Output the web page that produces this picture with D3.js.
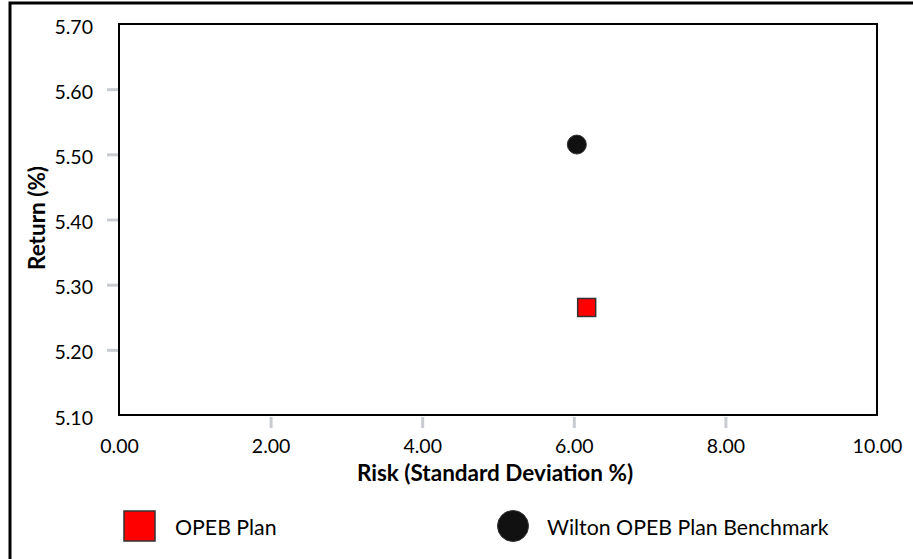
<!DOCTYPE html>
<html><head><meta charset="utf-8">
<script src="https://cdn.jsdelivr.net/npm/d3@7"></script>
<style>body{margin:0;background:#fff}svg{display:block}text{font-family:Lato,"Open Sans",sans-serif;fill:#000}</style>
</head><body>
<script>
const seriesNames = ["OPEB Plan", "Wilton OPEB Plan Benchmark"];
const riskValues = [6.17, 6.04];
const returnValues = [5.265, 5.515];
const seriesShapes = ["square", "circle"];
const seriesColors = ["#ff0000", "#111111"];
const xTicks = [0, 2, 4, 6, 8, 10];
const yTicks = [5.10, 5.20, 5.30, 5.40, 5.50, 5.60, 5.70];
const xTitle = "Risk (Standard Deviation %)";
const yTitle = "Return (%)";

const W = 913, H = 559;
const svg = d3.select("body").append("svg").attr("width", W).attr("height", H);
svg.append("rect").attr("x", 10).attr("y", 3).attr("width", 920).attr("height", 580)
  .attr("fill", "#fff").attr("stroke", "#000").attr("stroke-width", 3);

const L = 119, T = 24, R = 877, B = 415;
const x = d3.scaleLinear().domain([0, 10]).range([L, R]);
const y = d3.scaleLinear().domain([5.10, 5.70]).range([B, T]);

const tickFs = 19.5, titleFs = 22.5, legFs = 21.3;
// x axis
const xa = svg.append("g").attr("transform", `translate(0,${B})`)
  .call(d3.axisBottom(x).tickValues(xTicks).tickFormat(d3.format(".2f")).tickSize(13).tickPadding(0));
xa.select(".domain").remove();
xa.selectAll("line").attr("stroke", "#c8ccd0").attr("stroke-width", 3).attr("y1", 2);
xa.selectAll("text").style("font-size", tickFs + "px").attr("dy", null).attr("y", 38);
xa.selectAll(".tick").filter(d => d === 0 || d === 10).select("line").remove();

const ya = svg.append("g").attr("transform", `translate(${L},0)`)
  .call(d3.axisLeft(y).tickValues(yTicks).tickFormat(d3.format(".2f")).tickSize(12).tickPadding(14));
ya.select(".domain").remove();
ya.selectAll("line").attr("stroke", "#c8ccd0").attr("stroke-width", 3).attr("x1", -12).attr("x2", -1);
ya.selectAll("text").style("font-size", tickFs + "px").attr("dy", null).attr("y", 9);
ya.selectAll(".tick").filter(d => Math.abs(d - 5.1) < 1e-6 || Math.abs(d - 5.7) < 1e-6).select("line").remove();

svg.append("rect").attr("x", L).attr("y", T).attr("width", R - L).attr("height", B - T)
  .attr("fill", "none").attr("stroke", "#000").attr("stroke-width", 2);

svg.append("text").attr("x", 495).attr("y", 481).attr("text-anchor", "middle")
  .style("font-size", titleFs + "px").attr("font-weight", "bold").text(xTitle);
svg.append("text").attr("transform", `translate(45,218) rotate(-90)`).attr("text-anchor", "middle")
  .style("font-size", titleFs + "px").attr("font-weight", "bold").text(yTitle);

// points
seriesNames.forEach((n, i) => {
  const cx = x(riskValues[i]), cy = y(returnValues[i]);
  if (seriesShapes[i] === "square") {
    svg.append("rect").attr("x", cx - 9).attr("y", cy - 9).attr("width", 18).attr("height", 18)
      .attr("fill", seriesColors[i]).attr("stroke", "#333").attr("stroke-width", 1.5);
  } else {
    svg.append("circle").attr("cx", cx).attr("cy", cy).attr("r", 9.5)
      .attr("fill", seriesColors[i]).attr("stroke", "#333").attr("stroke-width", 1);
  }
});

// legend
const legX = [140, 513], legTextX = [175, 547], legY = 526;
seriesNames.forEach((n, i) => {
  if (seriesShapes[i] === "square") {
    svg.append("rect").attr("x", legX[i] - 16).attr("y", legY - 15).attr("width", 31).attr("height", 30)
      .attr("fill", seriesColors[i]).attr("stroke", "#333").attr("stroke-width", 1.5);
  } else {
    svg.append("circle").attr("cx", legX[i]).attr("cy", legY).attr("r", 15.5)
      .attr("fill", seriesColors[i]).attr("stroke", "#333").attr("stroke-width", 1);
  }
  svg.append("text").attr("x", legTextX[i]).attr("y", legY + 9).style("font-size", legFs + "px").text(n);
});
</script>
</body></html>
